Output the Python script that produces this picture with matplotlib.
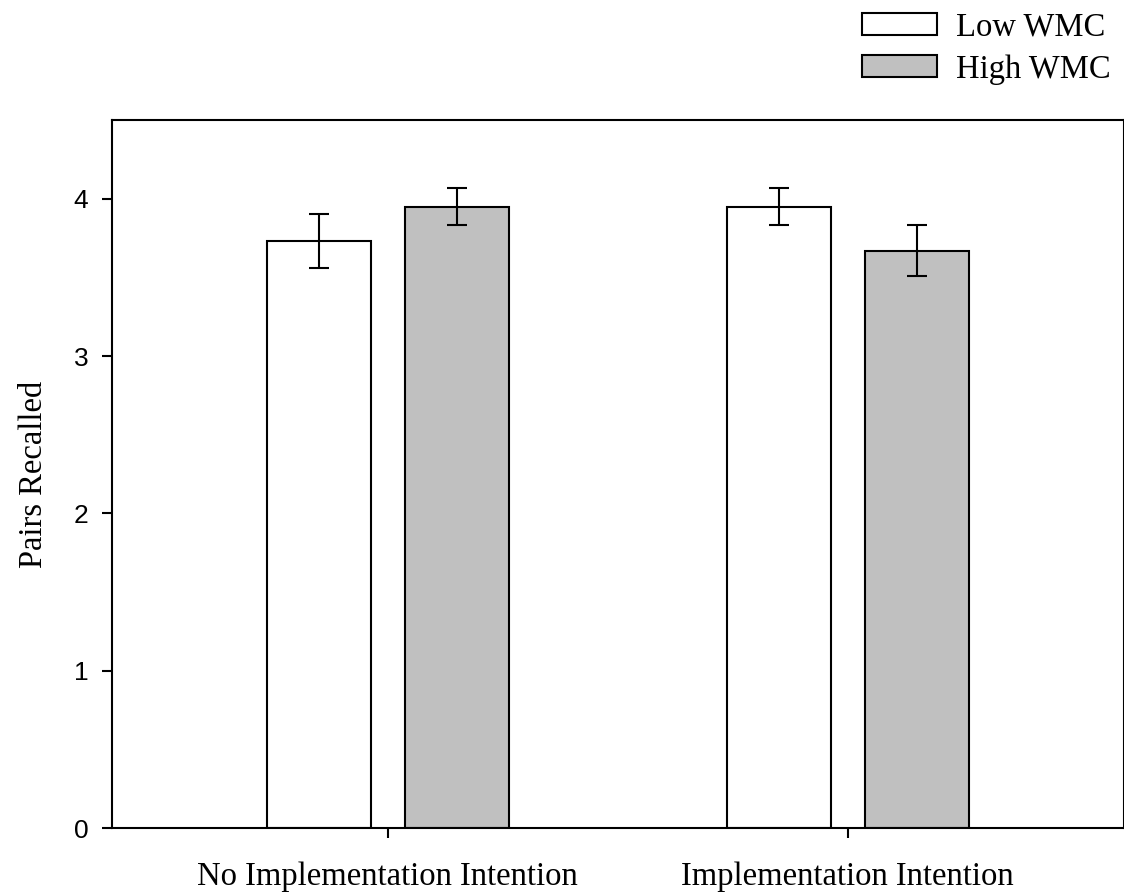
import numpy as np
import matplotlib.pyplot as plt
from matplotlib.patches import Patch

conditions = ['No Implementation Intention', 'Implementation Intention']
groups = ['Low WMC', 'High WMC']
low_wmc = [3.73, 3.95]
low_err = [0.17, 0.12]
high_wmc = [3.95, 3.67]
high_err = [0.12, 0.16]

serif = ['Liberation Serif', 'DejaVu Serif']
sans = ['Liberation Sans', 'DejaVu Sans']
plt.rcParams['font.family'] = sans

fig = plt.figure(figsize=(11.24, 8.94), dpi=100)
ax = fig.add_axes([112 / 1124, 66 / 894, 1011.5 / 1124, 708 / 894])

x = np.arange(len(conditions))
width = 0.226
offset = 0.15
err_kw = dict(ecolor='black', elinewidth=1.5, capsize=7.5, capthick=1.5)

ax.bar(x - offset, low_wmc, width, yerr=low_err, color='white',
       edgecolor='black', linewidth=1.5, error_kw=err_kw, label=groups[0])
ax.bar(x + offset, high_wmc, width, yerr=high_err, color='#c0c0c0',
       edgecolor='black', linewidth=1.5, error_kw=err_kw, label=groups[1])

ax.set_xlim(-0.6, 1.6)
ax.set_ylim(0, 4.5)
ax.set_yticks([0, 1, 2, 3, 4])
ax.set_xticks(x)
ax.set_xticklabels(conditions, fontfamily=serif, fontsize=23.5)
ax.tick_params(axis='y', direction='out', length=7, width=1.5, pad=10,
               labelsize=19)
ax.tick_params(axis='x', direction='out', length=7, width=1.5, pad=17)
for s in ax.spines.values():
    s.set_linewidth(1.5)

ax.set_ylabel('Pairs Recalled', fontfamily=serif, fontsize=23.5, labelpad=18)

handles = [Patch(facecolor='white', edgecolor='black', linewidth=1.5),
           Patch(facecolor='#c0c0c0', edgecolor='black', linewidth=1.5)]
fig.legend(handles, groups, loc='upper right', bbox_to_anchor=(0.997, 0.998),
           frameon=False, prop={'family': serif, 'size': 23.5},
           handlelength=2.3, handleheight=0.65, handletextpad=0.6,
           labelspacing=0.37, borderaxespad=0.1, borderpad=0.2)

fig.savefig('out.png', dpi=100)
